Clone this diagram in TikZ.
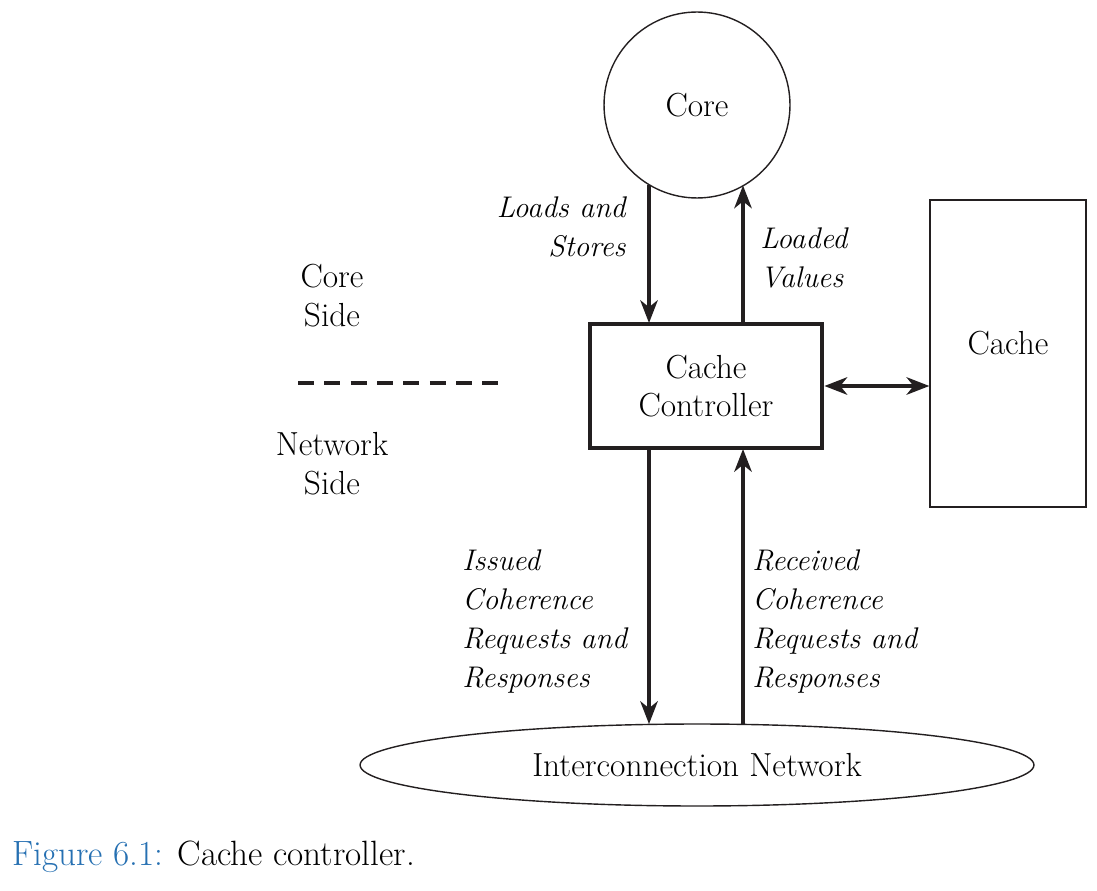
\documentclass[tikz,border=0pt]{standalone}
\usetikzlibrary{arrows.meta,shapes.geometric}
\definecolor{ink}{RGB}{35,31,32}
\definecolor{capblue}{RGB}{38,112,178}
\tikzset{
  lbl/.style={font=\itshape\fontsize{17}{22.2}\selectfont, inner sep=0pt},
  txt/.style={font=\fontsize{19}{22.2}\selectfont, inner sep=0pt},
  flow/.style={draw=ink, line width=1.8pt, -{Stealth[length=13pt,width=10pt,inset=4pt]}}
}
\begin{document}
\begin{tikzpicture}[x=0.02cm,y=-0.02cm]
    \useasboundingbox (0,0) rectangle (1097,891);
    % blocks
    \node[draw=ink, circle, line width=0.8pt, outer sep=0pt, minimum size=3.72cm, inner sep=0pt, txt] (core) at (697,105) {Core};
    \node[draw=ink, rectangle, line width=2.8pt, minimum width=4.64cm, minimum height=2.48cm, txt, align=center] (ctrl) at (706,386) {Cache\\[-1pt]Controller};
    \node[draw=ink, rectangle, line width=0.8pt, minimum width=3.12cm, minimum height=6.14cm, txt, text depth=12pt] (cache) at (1008,353.5) {Cache};
    \node[draw=ink, ellipse, line width=0.8pt, outer sep=0pt, minimum width=13.48cm, minimum height=1.64cm, inner sep=0pt, txt] (net) at (697,765) {Interconnection Network};
    % end points
    \coordinate (ls) at (649,323);
    \coordinate (lv) at (743,323);
    \coordinate (iq) at (649,449);
    \coordinate (rq) at (743,449);
    % connectors
    \draw[flow] (ls |- core.-121) -- (ls);
    \draw[flow] (lv) -- (lv |- core.-60);
    \draw[flow] (iq) -- (iq |- net.north);
    \draw[flow] (rq |- net.north) -- (rq);
    \draw[flow, {Stealth[length=13pt,width=10pt,inset=4pt]}-{Stealth[length=13pt,width=10pt,inset=4pt]}] (ctrl.east) -- (ctrl.east -| cache.west);
    % side split
    \draw[ink, line width=1.8pt, dash pattern=on 9pt off 6pt] (298,383) -- (503,383);
    \node[txt, align=center] (coreside) at (332,296) {Core\\Side};
    \node[txt, align=center] (netside) at (332,464) {Network\\Side};
    % labels
    \node[lbl, align=right, anchor=east] (lsl) at (626,227) {Loads and\\Stores};
    \node[lbl, align=left, anchor=west] (lvl) at (760,258) {Loaded\\Values};
    \node[lbl, align=left, anchor=west] (iql) at (462,622) {Issued\\Coherence\\Requests and\\Responses};
    \node[lbl, align=left, anchor=west] (rql) at (752,622) {Received\\Coherence\\Requests and\\Responses};
    % caption
    \node[txt, font=\fontsize{20}{24}\selectfont, anchor=west] (cap) at (12,857) {\textcolor{capblue}{Figure 6.1:} Cache controller.};
\end{tikzpicture}
\end{document}
